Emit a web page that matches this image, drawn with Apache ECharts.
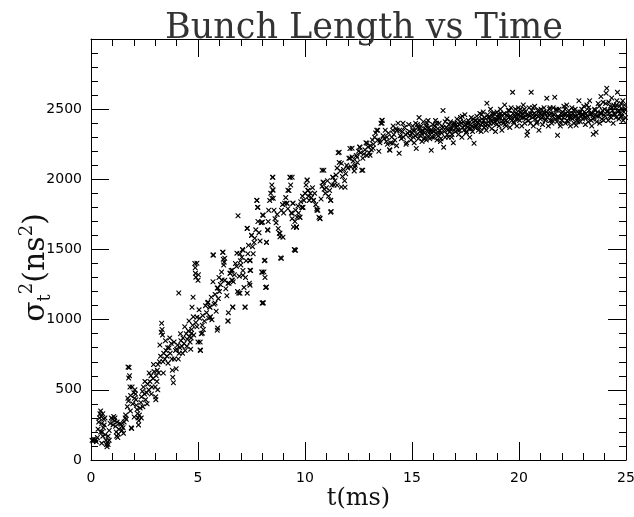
<!DOCTYPE html>
<html>
<head>
<meta charset="utf-8">
<script src="https://cdn.jsdelivr.net/npm/echarts@6/dist/echarts.min.js"></script>
<style>html,body{margin:0;padding:0;background:#fff}#c{width:634px;height:517px}</style>
</head>
<body>
<div id="c"></div>
<script>
const titleText = 'Bunch Length vs Time';
const xTicks = [0, 5, 10, 15, 20, 25];
const yTicks = [0, 500, 1000, 1500, 2000, 2500];

const early = [
[0.05,140],[0.1,135],[0.12,150],[0.18,140],[0.22,145],[0.25,130],[0.3,160],[0.33,220],[0.36,270],[0.4,300],[0.42,330],[0.45,350],[0.48,310],[0.5,260],[0.52,200],[0.55,170],[0.58,230],[0.6,290],[0.62,250],[0.66,180],[0.7,140],[0.72,110],[0.75,95],[0.78,130],[0.8,170],[0.85,210],[0.9,260],[0.95,300],
[1.0,290],[1.03,250],[1.06,310],[1.1,280],[1.15,240],[1.18,200],[1.2,170],[1.25,160],[1.28,185],[1.3,220],[1.35,260],[1.4,255],[1.45,240],[1.5,230],[1.55,270],[1.6,300],[1.62,320],[1.65,290],[1.7,380],[1.72,440],[1.75,420],[1.78,660],[1.8,600],[1.82,520],[1.85,460],[1.88,230],[1.9,225],[1.95,400],
[2.0,480],[2.03,440],[2.05,500],[2.08,470],[2.1,430],[2.12,390],[2.15,360],[2.18,330],[2.2,300],[2.23,280],[2.26,320],[2.3,370],[2.33,410],[2.36,450],[2.4,490],[2.45,520],[2.5,470],[2.55,430],[2.6,480],[2.65,540],[2.7,500],[2.75,560],[2.8,600],[2.85,520],[2.9,580],[2.95,630],
[3.0,520],[3.02,450],[3.05,600],[3.08,560],[3.1,640],[3.13,680],[3.16,620],[3.2,700],[3.25,740],[3.3,975],[3.32,930],[3.34,890],[3.36,700],[3.4,760],[3.45,720],[3.5,780],[3.55,740],[3.6,690],[3.65,800],[3.7,760],[3.75,830],[3.8,640],[3.82,590],[3.85,550],[3.9,720],[3.95,780],
[4.0,790],[4.05,820],[4.1,1190],[4.12,760],[4.15,800],[4.2,850],[4.25,810],[4.3,870],[4.35,830],[4.4,780],[4.45,900],[4.5,860],[4.55,920],[4.6,880],[4.63,840],[4.66,790],[4.7,930],[4.75,960],[4.8,890],[4.85,1400],[4.87,1370],[4.88,1330],[4.9,980],[4.95,950]
];

const earlyExtra = [
[0.45,200],[0.5,120],[0.55,330],[0.65,300],[0.8,110],[0.85,140],[1.12,300],[1.22,270],[1.45,210],[1.52,190],[1.73,662],[1.76,584],[1.84,350],[1.92,520],[2.02,306],[2.22,250],[2.35,300],[2.42,380],[2.52,560],[2.62,400],[2.72,620],[2.82,470],[2.92,680],[3.03,430],[3.12,500],[3.22,820],[3.28,910],[3.38,620],[3.48,850],[3.58,800],[3.68,870],[3.78,720],[3.88,840],[3.98,650],[4.08,720],[4.18,900],[4.28,760],[4.38,950],[4.48,810],[4.58,990],[4.68,870],[4.78,1020]
];

const rise = [
[5.0,1280],[5.02,1320],[5.05,1070],[5.08,1010],[5.1,840],[5.12,780],[5.15,900],[5.2,960],[5.22,1030],[5.25,930],[5.3,990],[5.35,1100],[5.4,1050],[5.45,1120],[5.5,1010],[5.55,1090],[5.58,1020],[5.62,1160],[5.65,1000],[5.7,1270],[5.72,1460],[5.75,1110],[5.8,1180],[5.85,1060],[5.9,1225],[5.92,940],[5.95,1150],[5.98,1300],
[6.0,1200],[6.05,1250],[6.1,1340],[6.15,1480],[6.18,1430],[6.2,1390],[6.22,1410],[6.25,1280],[6.3,1220],[6.35,1170],[6.4,990],[6.42,1050],[6.45,1260],[6.5,1330],[6.55,1350],[6.6,1280],[6.62,1090],[6.65,1270],[6.7,1320],[6.75,1400],[6.8,1380],[6.85,1200],[6.87,1740],[6.9,1190],[6.93,1310],[6.96,1470],[6.98,1420],
[7.0,1390],[7.05,1445],[7.08,1500],[7.1,1350],[7.15,1230],[7.2,1090],[7.22,1300],[7.25,1420],[7.3,1650],[7.33,1470],[7.36,1530],[7.4,1260],[7.43,1420],[7.46,1350],[7.5,1600],[7.55,1520],[7.58,1470],[7.62,1550],[7.65,1580],[7.7,1640],[7.75,1850],[7.78,1800],[7.8,1700],[7.85,1620],[7.9,1560],[7.95,1690],[7.98,1340],
[8.0,1695],[8.02,1745],[8.05,1120],[8.08,1340],[8.1,1420],[8.13,1300],[8.16,1230],[8.2,1550],[8.25,1640],[8.28,1700],[8.3,1780],[8.35,1850],[8.4,1900],[8.45,1960],[8.48,2015],[8.5,1925],[8.52,1865],[8.55,1780],[8.6,1720],[8.65,1690],[8.7,1750],[8.75,1650],[8.8,1615],[8.83,1590],[8.86,1440],[8.9,1780],[8.95,1820],
[9.0,1760],[9.05,1830],[9.1,1870],[9.15,1830],[9.2,1790],[9.25,1920],[9.3,2015],[9.33,1960],[9.36,1760],[9.4,1720],[9.43,1830],[9.46,1660],[9.5,1500],[9.53,1700],[9.56,1780],[9.6,1660],[9.63,1730],[9.67,1810],[9.7,1760],[9.75,1730],[9.8,1840],[9.85,1800],[9.88,1880],[9.9,1800],[9.95,1850]
];

const riseExtra = [
[5.1,783],[5.0,840],[4.7,904],[5.2,904],[5.9,925],[6.4,990],[4.77,1160],[4.95,1402],[4.9,1303],[5.7,1460],[6.17,1480],[6.25,1438],[6.82,1474],[7.1,1495],[7.43,1424],[7.3,1652],[7.5,1602],[7.75,1851],[7.8,1801],[8.0,1695],[8.05,1744],[8.27,1638],[8.2,1552],[8.13,1424],[8.0,1338],[8.2,1232],[8.03,1118],[8.5,2015],[8.5,1922],[8.45,1865],[8.83,1616],[8.97,1588],[8.9,1438],[9.3,2015],[9.2,1922],[9.16,1830],[9.4,1759],[9.6,1659],[9.56,1495],[6.6,1353],[7.1,1317],[6.58,1282],[6.96,1189],[7.43,1246],[7.43,1353],[6.63,1089],[7.2,1089],[8.0,1118],[4.72,1089],[4.95,1018],[5.56,1089],[5.56,1018],[5.8,1118],[5.93,1225],[5.47,1125],[6.12,1282],[6.4,1260],[7.3,1189],[6.5,1331]
];

const knee = [
[10.0,1900],[10.05,1960],[10.1,1995],[10.13,1920],[10.16,1880],[10.2,1850],[10.25,1900],[10.3,1870],[10.35,1940],[10.4,1850],[10.45,1900],[10.5,1820],[10.55,1790],[10.6,1780],[10.65,1730],[10.7,1720],[10.75,1860],[10.8,1950],[10.85,1980],[10.88,2065],[10.9,1930],[10.95,1900],
[11.0,1940],[11.05,1990],[11.1,1880],[11.15,1920],[11.2,1850],[11.22,1770],[11.25,1960],[11.3,2015],[11.35,1960],[11.4,1990],[11.45,2030],[11.5,2080],[11.55,2190],[11.6,2120],[11.65,2060],[11.7,1945],[11.75,2020],[11.8,2070],[11.85,1990],[11.9,2040],[11.95,2100],
[12.0,2080],[12.05,2150],[12.1,2220],[12.15,2090],[12.2,2160],[12.25,2130],[12.3,2060],[12.35,2100],[12.4,2170],[12.45,2120],[12.5,2200],[12.55,2230],[12.6,2190],[12.65,2065],[12.7,2150],[12.75,2180],[12.8,2210],[12.85,2260],[12.9,2170],[12.95,2230],
[13.0,2190],[13.05,2240],[13.1,2210],[13.15,2280],[13.2,2250],[13.25,2300],[13.3,2330],[13.35,2350],[13.4,2280],[13.45,2200],[13.5,2260],[13.55,2400],[13.6,2420],[13.65,2310],[13.7,2290],[13.75,2350],[13.8,2270],[13.85,2250],[13.9,2330],[13.95,2210],
[14.0,2260],[14.05,2300],[14.1,2350],[14.15,2320],[14.2,2280],[14.25,2360],[14.3,2350],[14.35,2400],[14.4,2185],[14.45,2310],[14.5,2290],[14.55,2340],[14.6,2300],[14.65,2370],[14.7,2320],[14.75,2260],[14.8,2330],[14.85,2390],[14.9,2310],[14.95,2280]
];

const kneeExtra = [
[9.53,1495],[9.6,1659],[9.44,1830],[9.4,2015],[9.77,1730],[9.9,1801],[10.1,1994],[10.15,1922],[10.4,1851],[10.7,1723],[10.56,1780],[10.85,1980],[10.8,2065],[11.2,1851],[11.2,1766],[11.3,2015],[11.5,1958],[11.6,2193],[11.7,2115],[11.87,1944],[12.1,2150],[12.2,2221],[12.33,2086],[12.43,2157],[12.57,2228],[12.7,2065],[12.9,2257],[13.04,2172],[13.18,2221],[13.4,2350],[13.5,2278],[13.6,2400],[13.83,2300],[13.97,2207],[14.1,2257],[14.3,2350],[13.6,2421],
[14.12,2380],[14.28,2240],[14.42,2350],[14.58,2400],[14.72,2250],[14.88,2340]
];

const plateau = [
[15.0,2330],[15.03,2380],[15.07,2300],[15.1,2260],[15.13,2350],[15.17,2400],[15.2,2220],[15.23,2320],[15.27,2370],[15.3,2290],[15.33,2440],[15.37,2340],[15.4,2310],[15.43,2380],[15.47,2270],[15.5,2350],[15.53,2410],[15.57,2330],[15.6,2300],[15.63,2360],[15.67,2280],[15.7,2400],[15.73,2340],[15.77,2310],[15.8,2370],[15.83,2290],[15.87,2350],[15.9,2207],[15.93,2330],[15.97,2390],
[16.0,2340],[16.03,2300],[16.07,2380],[16.1,2420],[16.13,2330],[16.17,2280],[16.2,2360],[16.23,2310],[16.27,2400],[16.3,2350],[16.33,2270],[16.37,2330],[16.4,2380],[16.45,2490],[16.48,2228],[16.52,2340],[16.55,2300],[16.6,2370],[16.63,2430],[16.67,2350],[16.7,2300],[16.73,2390],[16.77,2340],[16.8,2410],[16.83,2360],[16.87,2320],[16.9,2380],[16.93,2260],[16.97,2350],
[17.0,2400],[17.03,2340],[17.07,2370],[17.1,2430],[17.13,2380],[17.17,2320],[17.2,2390],[17.23,2350],[17.27,2440],[17.3,2400],[17.33,2300],[17.37,2370],[17.4,2410],[17.43,2350],[17.47,2460],[17.5,2390],[17.53,2330],[17.57,2400],[17.6,2370],[17.63,2420],[17.67,2360],[17.7,2300],[17.73,2390],[17.77,2440],[17.8,2380],[17.83,2340],[17.87,2410],[17.9,2257],[17.93,2370],[17.97,2420],
[18.0,2380],[18.03,2450],[18.07,2400],[18.1,2350],[18.13,2420],[18.17,2470],[18.2,2390],[18.23,2340],[18.27,2430],[18.3,2400],[18.33,2480],[18.37,2370],[18.4,2440],[18.43,2400],[18.47,2350],[18.5,2542],[18.53,2460],[18.57,2410],[18.6,2380],[18.63,2440],[18.67,2500],[18.7,2420],[18.73,2360],[18.77,2450],[18.8,2400],[18.83,2470],[18.87,2410],[18.9,2340],[18.93,2430],[18.97,2480],
[19.0,2420],[19.03,2460],[19.07,2380],[19.1,2440],[19.13,2500],[19.17,2410],[19.2,2350],[19.23,2450],[19.27,2400],[19.3,2470],[19.33,2530],[19.37,2420],[19.4,2380],[19.43,2460],[19.47,2410],[19.5,2490],[19.53,2440],[19.57,2370],[19.6,2450],[19.63,2510],[19.67,2420],[19.7,2620],[19.73,2470],[19.77,2400],[19.8,2450],[19.83,2500],[19.87,2430],[19.9,2380],[19.93,2460],[19.97,2510]
];

const plateauExtra = [
[15.05,2350],[15.15,2310],[15.25,2390],[15.35,2360],[15.45,2330],[15.55,2290],[15.65,2380],[15.75,2420],[15.85,2340],[15.95,2300],
[16.05,2360],[16.15,2400],[16.25,2330],[16.35,2290],[16.45,2370],[16.55,2410],[16.65,2320],[16.75,2360],[16.85,2300],[16.95,2400],
[17.05,2390],[17.15,2350],[17.25,2410],[17.35,2450],[17.45,2380],[17.55,2340],[17.65,2400],[17.75,2360],[17.85,2430],[17.95,2380],
[18.05,2410],[18.15,2370],[18.25,2460],[18.35,2420],[18.45,2380],[18.55,2440],[18.65,2400],[18.75,2470],[18.85,2430],[18.95,2390],
[19.05,2440],[19.15,2470],[19.25,2420],[19.35,2390],[19.45,2450],[19.55,2490],[19.65,2440],[19.75,2410],[19.85,2470],[19.95,2430]
];

const late = [
[20.0,2460],[20.03,2420],[20.07,2500],[20.1,2450],[20.13,2380],[20.17,2470],[20.2,2530],[20.23,2440],[20.27,2400],[20.3,2480],[20.33,2430],[20.37,2314],[20.4,2340],[20.43,2460],[20.47,2510],[20.5,2450],[20.53,2400],[20.57,2620],[20.6,2490],[20.63,2440],[20.67,2380],[20.7,2470],[20.73,2520],[20.77,2430],[20.8,2460],[20.83,2400],[20.87,2490],[20.9,2450],[20.93,2350],[20.97,2470],
[21.0,2430],[21.03,2500],[21.07,2460],[21.1,2390],[21.13,2450],[21.17,2510],[21.2,2470],[21.23,2420],[21.27,2480],[21.3,2577],[21.33,2440],[21.37,2380],[21.4,2460],[21.43,2500],[21.47,2420],[21.5,2470],[21.53,2400],[21.57,2450],[21.6,2510],[21.63,2460],[21.67,2585],[21.7,2430],[21.73,2490],[21.77,2410],[21.8,2314],[21.83,2450],[21.87,2500],[21.9,2440],[21.93,2380],[21.97,2470],
[22.0,2420],[22.03,2480],[22.07,2440],[22.1,2520],[22.13,2460],[22.17,2400],[22.2,2470],[22.23,2530],[22.27,2450],[22.3,2410],[22.33,2490],[22.37,2440],[22.4,2380],[22.43,2460],[22.47,2510],[22.5,2430],[22.53,2470],[22.57,2400],[22.6,2450],[22.63,2500],[22.67,2385],[22.7,2420],[22.73,2480],[22.77,2440],[22.8,2560],[22.83,2470],[22.87,2410],[22.9,2450],[22.93,2500],[22.97,2430],
[23.0,2460],[23.03,2520],[23.07,2440],[23.1,2390],[23.13,2470],[23.17,2530],[23.2,2450],[23.23,2410],[23.27,2490],[23.3,2560],[23.33,2460],[23.37,2420],[23.4,2380],[23.43,2470],[23.47,2321],[23.5,2440],[23.53,2500],[23.57,2460],[23.6,2335],[23.63,2410],[23.67,2480],[23.7,2540],[23.73,2450],[23.77,2400],[23.8,2470],[23.83,2590],[23.87,2430],[23.9,2490],[23.93,2550],[23.97,2460],
[24.0,2500],[24.03,2450],[24.07,2613],[24.1,2649],[24.13,2480],[24.17,2420],[24.2,2550],[24.23,2470],[24.27,2520],[24.3,2440],[24.33,2580],[24.37,2490],[24.4,2400],[24.43,2530],[24.47,2460],[24.5,2510],[24.53,2440],[24.57,2560],[24.6,2620],[24.63,2480],[24.67,2430],[24.7,2520],[24.73,2470],[24.77,2540],[24.8,2450],[24.83,2500],[24.87,2420],[24.9,2480],[24.93,2530],[24.97,2440]
];

const lateExtra = [
[20.05,2480],[20.15,2440],[20.25,2500],[20.35,2460],[20.45,2420],[20.55,2470],[20.65,2510],[20.75,2450],[20.85,2410],[20.95,2490],
[21.05,2440],[21.15,2480],[21.25,2430],[21.35,2470],[21.45,2510],[21.55,2420],[21.65,2460],[21.75,2500],[21.85,2440],[21.95,2400],
[22.05,2460],[22.15,2500],[22.25,2420],[22.35,2470],[22.45,2440],[22.55,2490],[22.65,2450],[22.75,2410],[22.85,2480],[22.95,2460],
[23.05,2480],[23.15,2440],[23.25,2510],[23.35,2470],[23.45,2430],[23.55,2490],[23.65,2450],[23.75,2520],[23.85,2470],[23.95,2420],
[24.05,2540],[24.15,2490],[24.25,2450],[24.35,2510],[24.45,2470],[24.55,2530],[24.65,2490],[24.75,2450],[24.85,2560],[24.95,2500]
];

const allPoints = early.concat(earlyExtra, rise, riseExtra, knee, kneeExtra, plateau, plateauExtra, late, lateExtra);

const chart = echarts.init(document.getElementById('c'), null, {renderer: 'canvas'});
const crossPath = 'path://M0,0L1.6,0L5,3.4L8.4,0L10,0L10,1.6L6.6,5L10,8.4L10,10L8.4,10L5,6.6L1.6,10L0,10L0,8.4L3.4,5L0,1.6Z';

function axisCommon() {
  return {
    axisLine: {show: true, onZero: false, lineStyle: {color: '#000', width: 1}},
    axisTick: {show: true, inside: true, length: 18, lineStyle: {color: '#000', width: 1}},
    minorTick: {show: true, splitNumber: 5, length: 7, lineStyle: {color: '#000', width: 1}},
    splitLine: {show: false},
    minorSplitLine: {show: false}
  };
}

chart.setOption({
  animation: false,
  backgroundColor: '#fff',
  title: {
    text: titleText,
    left: 359,
    textAlign: 'center',
    top: 6,
    textStyle: {fontFamily: 'DejaVu Serif', fontSize: 35, fontWeight: 'normal', color: '#333'}
  },
  grid: {left: 91, right: 8, top: 39, bottom: 57, containLabel: false, outerBoundsMode: 'none'},
  xAxis: [
    Object.assign({}, axisCommon(), {
      type: 'value', position: 'bottom', min: xTicks[0], max: xTicks[xTicks.length - 1], interval: 5,
      axisLabel: {show: true, margin: 11, color: '#000', fontFamily: 'DejaVu Sans', fontSize: 14},
      name: 't(ms)', nameLocation: 'middle', nameGap: 27, nameMoveOverlap: false,
      nameTextStyle: {fontFamily: 'DejaVu Serif', fontSize: 24, color: '#111'}
    }),
    Object.assign({}, axisCommon(), {
      type: 'value', position: 'top', min: 0, max: 25, interval: 5,
      axisLabel: {show: false}
    })
  ],
  yAxis: [
    Object.assign({}, axisCommon(), {
      type: 'value', position: 'left', min: 0, max: 3000, interval: 500,
      axisLabel: {show: true, margin: 9, color: '#000', fontFamily: 'DejaVu Sans', fontSize: 14,
        formatter: function (v) { return yTicks.indexOf(v) >= 0 ? String(v) : ''; }},
      name: '{a|σ}{b|t}{c|2}{a|(ns}{c|2}{a|)}',
      nameLocation: 'middle', nameGap: 37, nameRotate: 90, nameMoveOverlap: false,
      nameTextStyle: {
        color: '#111',
        padding: [0, 36, 0, 0],
        rich: {
          a: {fontFamily: 'DejaVu Serif', fontSize: 30, color: '#111', lineHeight: 36, verticalAlign: 'middle'},
          b: {fontFamily: 'DejaVu Serif', fontSize: 18, color: '#111', lineHeight: 36, verticalAlign: 'bottom'},
          c: {fontFamily: 'DejaVu Serif', fontSize: 18, color: '#111', lineHeight: 36, verticalAlign: 'top'}
        }
      }
    }),
    Object.assign({}, axisCommon(), {
      type: 'value', position: 'right', min: 0, max: 3000, interval: 500,
      axisLabel: {show: false}
    })
  ],
  series: [{
    type: 'scatter',
    xAxisIndex: 0,
    yAxisIndex: 0,
    data: allPoints,
    symbol: crossPath,
    symbolSize: 5,
    itemStyle: {color: '#000', opacity: 1},
    emphasis: {disabled: true}
  }]
});
</script>
</body>
</html>
